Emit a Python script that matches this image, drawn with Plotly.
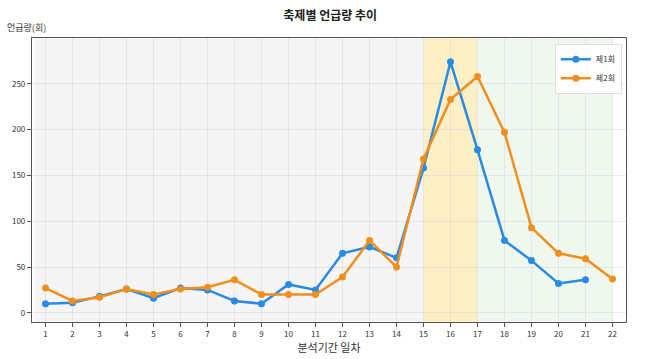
import plotly.graph_objects as go

days1 = list(range(1, 22))
series1 = [10, 11, 18, 26, 16, 27, 25, 13, 10, 31, 25, 65, 72, 60, 158, 274, 178, 79, 57, 32, 36]
days2 = list(range(1, 23))
series2 = [27, 13, 17, 26, 20, 26, 28, 36, 20, 20, 20, 39, 79, 50, 168, 233, 258, 197, 93, 65, 59, 37]
name1 = "제1회"
name2 = "제2회"
x_ticks = list(range(1, 23))
y_ticks = [0, 50, 100, 150, 200, 250]
spans = [(0.6, 15, "#f5f5f5"), (15, 17, "#fdefc6"), (17, 22, "#eff7ee")]

FONT = "Noto Sans CJK KR"
BLUE = "#2a8be3"
ORANGE = "#f08f1e"

fig = go.Figure()
for x0, x1, c in spans:
    fig.add_vrect(x0=x0, x1=x1, fillcolor=c, opacity=1, line_width=0, layer="below")

fig.add_trace(go.Scatter(x=days1, y=series1, name=name1, mode="lines+markers",
                         line=dict(color=BLUE, width=2.5),
                         marker=dict(color=BLUE, size=7)))
fig.add_trace(go.Scatter(x=days2, y=series2, name=name2, mode="lines+markers",
                         line=dict(color=ORANGE, width=2.5),
                         marker=dict(color=ORANGE, size=7)))

fig.update_layout(
    width=650, height=359,
    margin=dict(l=32, r=24, t=38, b=37, autoexpand=False),
    paper_bgcolor="white", plot_bgcolor="white",
    font=dict(family=FONT, size=8, color="#333"),
    title=dict(text="<b>축제별 언급량 추이</b>", x=0.508, xanchor="center", y=0.955, yanchor="middle",
               font=dict(size=12, color="#222", family=FONT)),
    showlegend=True,
    legend=dict(x=0.993, y=0.98, xanchor="right", yanchor="top",
                bgcolor="rgba(255,255,255,0.9)", bordercolor="#ddd", borderwidth=1,
                font=dict(size=8, family=FONT), itemwidth=30, tracegroupgap=0),
    xaxis=dict(range=[0.5, 22.5], tickvals=x_ticks, ticks="outside", ticklen=4, tickcolor="#555",
               showgrid=True, gridcolor="rgba(200,200,200,0.35)", gridwidth=1,
               showline=True, linecolor="#555", linewidth=1.2, mirror=True, zeroline=False,
               title=dict(text="분석기간 일차", font=dict(size=11, family=FONT), standoff=6),
               tickfont=dict(size=8)),
    yaxis=dict(range=[-10, 300], tickvals=y_ticks, ticks="outside", ticklen=4, tickcolor="#555",
               showgrid=True, gridcolor="rgba(200,200,200,0.35)", gridwidth=1,
               showline=True, linecolor="#555", linewidth=1.2, mirror=True, zeroline=False,
               tickfont=dict(size=8)),
)
fig.add_annotation(text="언급량(회)", xref="paper", yref="paper", x=-0.045, y=1.0,
                   xanchor="left", yanchor="bottom", yshift=2, showarrow=False,
                   font=dict(size=9, family=FONT, color="#333"))
fig.write_html("out.html", config={"displayModeBar": False},
               post_script="document.body.style.margin='0';document.body.style.overflow='hidden';")
